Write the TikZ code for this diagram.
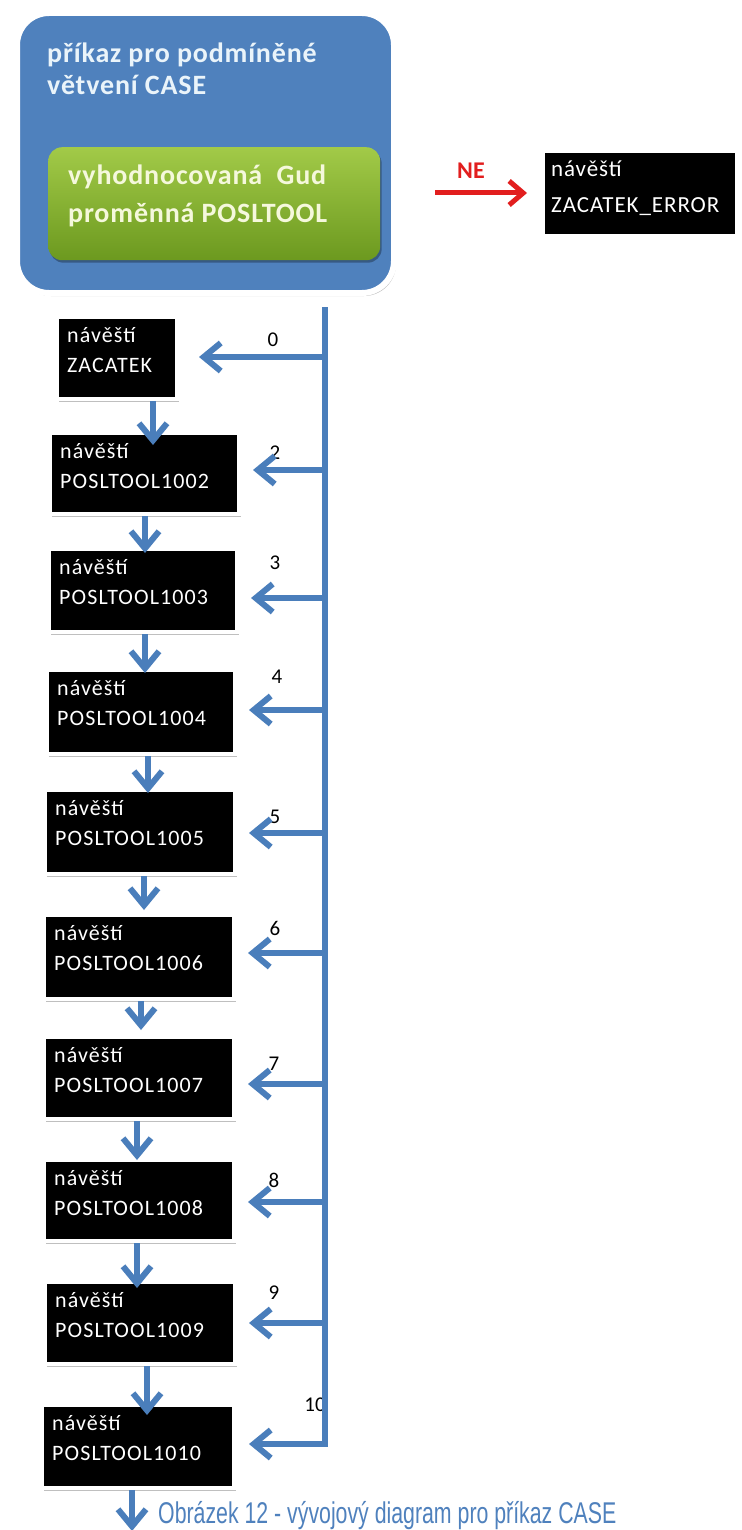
\documentclass[tikz,border=0pt]{standalone}
\usepackage{fontspec}
\setmainfont{Carlito}
\newfontfamily\capfont[FakeStretch=0.71]{Liberation Sans}
\newfontfamily\boxfont[LetterSpace=5]{Carlito}
\newfontfamily\errfont[LetterSpace=4]{Carlito}
\newfontfamily\titfont[LetterSpace=3]{Carlito}
\usetikzlibrary{shadows,arrows.meta,calc}
\definecolor{ofblue}{HTML}{4F81BD}
\definecolor{arrblue}{HTML}{4A7EBB}
\definecolor{tittext}{HTML}{EAF4FA}
\definecolor{grtext}{HTML}{F5F8DC}
\definecolor{grtop}{HTML}{A2CA48}
\definecolor{grbot}{HTML}{6C991F}
\definecolor{nered}{HTML}{E21E1E}
\definecolor{captblue}{HTML}{4F81BD}
\begin{document}
\begin{tikzpicture}[x=1pt,y=-1pt,
  blk/.style={fill=black, draw=white, line width=4pt, inner sep=0pt, anchor=north west,
    drop shadow={shadow xshift=1.5pt, shadow yshift=-2.5pt, opacity=0.25, fill=black}},
  bxt/.style={text=white, inner sep=0pt, anchor=base west, font=\boxfont\fontsize{22}{26}\selectfont},
  ert/.style={text=white, inner sep=0pt, anchor=base west, font=\errfont\fontsize{23}{27}\selectfont},
  num/.style={text=black, inner sep=0pt, font=\fontsize{21}{24}\selectfont},
  barrow/.style={draw=arrblue, line width=6pt, -{Straight Barb[length=17pt,width=28pt]}},
  rarrow/.style={draw=nered, line width=5pt, -{Straight Barb[length=14pt,width=24pt]}},
  tit/.style={text=tittext, inner sep=0pt, anchor=base west, font=\titfont\bfseries\fontsize{28}{32}\selectfont},
  grt/.style={text=grtext, inner sep=0pt, anchor=base west, font=\titfont\bfseries\fontsize{28}{32}\selectfont},
]
\useasboundingbox (0,0) rectangle (741,1530);
\fill[white] (0,0) rectangle (741,1530);

% outer blue rounded box
\node[fill=ofblue, draw=white, line width=6pt, rounded corners=32pt, inner sep=0pt,
  anchor=north west, minimum width=377pt, minimum height=280pt,
  drop shadow={shadow xshift=2pt, shadow yshift=-3pt, opacity=0.25, fill=black}] (outer) at (14,10) {};
\node[tit] (t1) at (47,63) {příkaz pro podmíněné};
\node[tit] (t2) at (47,95) {větvení CASE};

% green inner box
\node[top color=grtop, bottom color=grbot, rounded corners=14pt, inner sep=0pt,
  anchor=north west, minimum width=332pt, minimum height=113pt,
  drop shadow={shadow xshift=1.5pt, shadow yshift=-2.5pt, opacity=0.3, fill=black}] (inner) at (48,147) {};
\node[grt] (g1) at (68,185) {vyhodnocovaná\ \ Gud};
\node[grt] (g2) at (68,223) {proměnná POSLTOOL};

% error box
\node[blk, minimum width=194pt, minimum height=85pt] (err) at (541,149) {};
\node[ert] (e1) at (551,177) {návěští};
\node[ert] (e2) at (551,213) {ZACATEK\_ERROR};
\coordinate (neS) at (435,193);
\node[text=nered, inner sep=0pt, font=\bfseries\fontsize{24}{28}\selectfont] (ne) at (471,171) {NE};
\draw[rarrow, shorten >=14pt] (neS) -- (neS -| err.west);

% label boxes
\foreach \n/\x/\y/\w/\h/\t/\lx/\ly/\lab in {
  b0/55/315/120/82/ZACATEK/273/340/0,
  b2/48/431/189/81/POSLTOOL1002/275/453/2,
  b3/47/547/188/83/POSLTOOL1003/275/563/3,
  b4/45/668/188/84/POSLTOOL1004/277/677/4,
  b5/43/788/190/84/POSLTOOL1005/275/817/5,
  b6/42/913/190/84/POSLTOOL1006/275/928/6,
  b7/42/1035/190/82/POSLTOOL1007/274/1064/7,
  b8/42/1158/190/81/POSLTOOL1008/274/1180/8,
  b9/43/1280/190/82/POSLTOOL1009/274/1293/9,
  b10/40/1403/192/83/POSLTOOL1010/315/1405/10}
{
  \node[blk, minimum width=\w pt, minimum height=\h pt] (\n) at (\x,\y) {};
  \node[bxt] (\n a) at ($(\n.north west)+(12,27)$) {návěští};
  \node[bxt] (\n b) at ($(\n.north west)+(12,57)$) {\t};
  \node[num] (\n n) at (\lx,\ly) {\lab};
}

% trunk and branch arrows
\coordinate (trunk) at (325,307);
\coordinate (corner) at (325,1444);
\draw[barrow, shorten >=13pt] (trunk) -- (corner) -- (corner -| b10.east);
\foreach \n/\ay/\g in {b0/357/20, b2/470/12, b3/598/12, b4/710/12, b5/833/12,
  b6/953/12, b7/1084/12, b8/1202/12, b9/1323/12}
{
  \coordinate (j\n) at (325,\ay);
  \draw[barrow, shorten >=\g pt] (j\n) -- (j\n -| \n.east);
}

% vertical arrows between boxes
\foreach \a/\b/\x/\d in {b0/b2/153/14, b2/b3/145/6, b3/b4/145/5, b4/b5/148/5,
  b5/b6/144/-3, b6/b7/141/-5, b7/b8/137/2, b8/b9/137/8, b9/b10/147/12}
{
  \coordinate (v\a) at (\x,0);
  \draw[barrow] (v\a |- \a.south) -- ($(v\a |- \b.north)+(0,\d)$);
}
\coordinate (bottomend) at (132,1531);
\draw[barrow] (bottomend |- b10.south) -- (bottomend);

% caption
\node[text=captblue, inner sep=0pt, anchor=base west, font=\capfont\fontsize{30}{34}\selectfont] (cap) at (158,1523)
  {Obrázek 12 - vývojový diagram pro příkaz CASE};
\end{tikzpicture}
\end{document}
